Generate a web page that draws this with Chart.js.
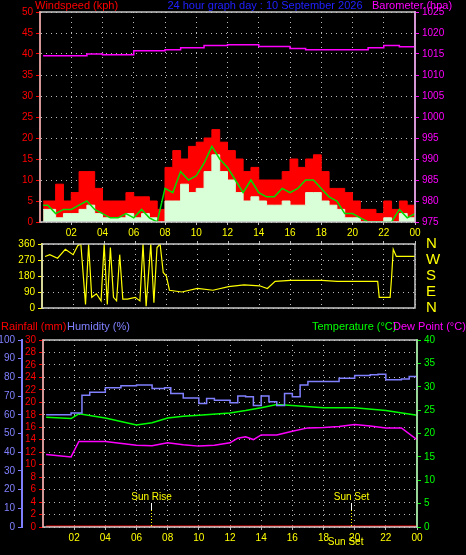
<!DOCTYPE html>
<html><head><meta charset="utf-8">
<script src="https://cdn.jsdelivr.net/npm/chart.js@4"></script>
<style>body{margin:0;background:#000;width:466px;height:555px;overflow:hidden;position:relative}canvas{position:absolute;left:0}</style>
</head><body>
<canvas id="c1" width="466" height="240" style="top:0"></canvas>
<canvas id="c2" width="466" height="90" style="top:230px"></canvas>
<canvas id="c3" width="466" height="235" style="top:320px"></canvas>
<script>
const hourLabels=["02","04","06","08","10","12","14","16","18","20","22","00"];
const windHours=[0.2,0.5,1,1.5,2,2.5,3,3.5,4,4.5,5,5.5,6,6.5,7,7.5,8,8.5,9,9.5,10,10.5,11,11.5,12,12.5,13,13.5,14,14.5,15,15.5,16,16.5,17,17.5,18,18.5,19,19.5,20,20.5,21,21.5,22,22.5,23,23.5,24];
const gust=[5,5,9,5,7,12,12,8,5,5,5,7,6,6,5,3,13,17,15,18,19,20,22,19,17,15,12,13,10,10,10,12,15,13,15,16,12,8,8,7,5,3,3,2,5,3,5,4,3];
const avgSpeed=[4,4,2,3,3,4,5,3,2,1,1,2,1,3,1,0,8,7,12,10,11,14,18,15,13,10,7,10,7,6,6,8,7,8,10,10,8,6,5,2,2,1,0,0,0,0,3,1,2];
const speed=[3,3,1,2,2,3,4,2,1,1,1,2,1,2,1,0,5,5,9,7,8,12,16,12,10,7,5,6,5,4,4,5,4,4,7,7,5,4,3,1,1,0,0,0,1,0,2,1,1];
const baroHours=[0.2,3,4,6,8,9,10.5,12,14,16,17,19,20,21,22,23,24];
const baro=[1014.6,1015,1014.8,1015.8,1016,1016.5,1017,1017.2,1016.8,1016.3,1016,1016,1016,1016.5,1017,1016.7,1017];
const dirHours=[0.2,0.5,1,1.5,2,2.3,2.5,2.8,3,3.2,3.5,3.8,4,4.2,4.4,4.6,4.8,5,5.2,5.5,6,6.3,6.5,6.7,7,7.2,7.4,7.6,7.8,8,8.2,9,10,11,12,13,14,14.5,15,16,17,18,19,21.6,21.7,22.4,22.5,22.6,22.8,24];
const windDir=[290,300,280,330,300,350,360,20,360,60,80,40,360,20,340,60,40,300,50,50,60,40,360,10,360,30,340,360,200,180,100,90,110,100,120,130,125,110,150,155,155,155,150,150,60,60,180,330,290,290];
const thHours=[0.2,1.8,2.5,3,4,5,6,7,7.8,8.2,9,10,10.5,11,12,12.5,13,13.5,14,14.5,15,15.5,16,16.5,17,18,19,20,21,21.5,22,23,23.5,24];
const humidity=[60,61,70.5,72,74.5,75.6,76,74,74.5,71.4,69,66,68.7,67.8,66.5,70,69.6,65,70,67,65,71.4,69.6,76,77.8,77.8,79.6,81,81.4,81.7,78.7,79.2,80.5,73.2];
const tempHours=[0.2,1.8,2.3,4,6,7,8,9,10,12,13,14,15,16,18,20,22,24];
const temperature=[23.5,23.2,24.2,23.3,21.8,22.3,23.3,23.7,23.9,24.4,24.9,25.5,26.2,26,25.5,25.5,24.9,23.9];
const dewHours=[0.2,1.8,2.3,4,6,7,8,9,10,11,12,12.5,13,13.5,14,15,16,17,18,19,20,21,22,23,24];
const dewPoint=[15.5,15,18.3,18.3,17.5,17.4,18,17.6,17.3,17.5,18,19,19.3,18.7,19.7,19.7,20.5,21.2,21.3,21.5,21.9,21.6,21.2,21.2,18.7];
const rainHours=[0.2,24];
const rainfall=[0,0];
const sunRise=6.95, sunSet=19.74;

const F='"Liberation Sans"';
const pts=(xs,ys)=>xs.map((x,i)=>({x,y:ys[i]}));
const frame={id:'frame',afterDatasetsDraw(ch){const a=ch.chartArea,c=ch.ctx;c.save();c.strokeStyle='#c8c8c8';c.lineWidth=1.5;c.strokeRect(a.left,a.top,a.right-a.left,a.bottom-a.top);c.restore();}};
function titles(list){return{id:'titles',afterDraw(ch){const c=ch.ctx;c.save();c.font='11px '+F;c.textBaseline='middle';list.forEach(t=>{c.fillStyle=t[3];c.textAlign=t[4]||'left';c.fillText(t[0],t[1],t[2]);});c.restore();}};}
function xAxis(pos,h,showLabels){return{type:'linear',position:pos,min:0,max:24,afterFit:s=>{s.height=h;},
 afterBuildTicks:s=>{s.ticks=[];for(let i=2;i<=24;i+=2)s.ticks.push({value:i});},
 ticks:{display:showLabels,color:'#ffff00',font:{size:10,family:F},padding:2,callback:(v)=>hourLabels[v/2-1]},
 grid:{color:'#bbb',drawTicks:true,tickLength:3,tickColor:'#bbb'},border:{dash:[1,4],display:false}};}
function yAxis(pos,w,min,max,step,color,grid,cb,fs){return{type:'linear',position:pos,min,max,afterFit:s=>{s.width=w;},
 ticks:{stepSize:step,color,font:{size:fs||10,family:F},padding:3,autoSkip:false,callback:cb},
 grid:{drawOnChartArea:grid,color:grid?'#bbb':color,tickColor:color,tickLength:4},border:{color,width:2,dash:grid?[1,4]:undefined}};}
Chart.defaults.animation=false;Chart.defaults.responsive=false;Chart.defaults.plugins.legend.display=false;Chart.defaults.plugins.tooltip.enabled=false;
Chart.defaults.elements.point.radius=0;

new Chart(document.getElementById('c1'),{type:'line',data:{datasets:[
 {data:pts(windHours,gust),stepped:true,borderColor:'#ff0000',backgroundColor:'#ff0000',fill:'origin',borderWidth:1,order:3,yAxisID:'y'},
 {data:pts(windHours,speed),stepped:true,borderColor:'#d8ffd8',backgroundColor:'#d8ffd8',fill:'origin',borderWidth:1,order:2,yAxisID:'y'},
 {data:pts(windHours,avgSpeed),borderColor:'#00dd00',borderWidth:1.5,order:1,yAxisID:'y'},
 {data:pts(baroHours,baro),stepped:true,borderColor:'#ff00ff',borderWidth:1.5,order:0,yAxisID:'y2'}]},
 options:{layout:{padding:{top:12}},scales:{x:xAxis('bottom',18,true),
  y:yAxis('left',40,0,50,5,'#ff0000',true),
  y2:yAxis('right',51,975,1025,5,'#ff00ff',false)}},
 plugins:[frame,titles([['Windspeed (kph)',35,6,'#ff0000'],['24 hour graph day : 10 September 2026',265,6,'#2020ff','center'],['Barometer (hpa)',372,6,'#ff00ff']])]});

new Chart(document.getElementById('c2'),{type:'line',data:{datasets:[
 {data:pts(dirHours,windDir),borderColor:'#ffff00',borderWidth:1.2,yAxisID:'y'},
 {data:[],yAxisID:'y2'}]},
 options:{layout:{padding:{bottom:11}},scales:{x:xAxis('top',14,false),
  y:yAxis('left',42,0,360,90,'#ffff00',true),
  y2:Object.assign(yAxis('right',51,0,360,90,'#ffff00',false,v=>({0:'N',90:'E',180:'S',270:'W',360:'N'})[v],15),{border:{display:false},grid:{display:false}})}},
 plugins:[frame]});

const sunPlugin={id:'sun',afterDatasetsDraw(ch){const c=ch.ctx,x=ch.scales.x,a=ch.chartArea;c.save();
 [[sunRise,'Sun Rise'],[sunSet,'Sun Set']].forEach(([h,t])=>{const px=Math.round(x.getPixelForValue(h))+0.5;
  c.strokeStyle='#fff';c.lineWidth=1;
  c.beginPath();c.moveTo(px,183);c.lineTo(px,190);c.stroke();
  c.strokeStyle='#ffff00';c.setLineDash([1,2]);c.beginPath();c.moveTo(px,190);c.lineTo(px,a.bottom);c.stroke();c.setLineDash([]);
  c.fillStyle='#ffff00';c.font='10px '+F;c.textAlign='center';c.textBaseline='middle';c.fillText(t,px,177);});
 c.fillStyle='#ffff00';c.font='10px '+F;c.textAlign='center';c.fillText('Sun Set',x.getPixelForValue(sunSet)-5,222);
 c.restore();}};
new Chart(document.getElementById('c3'),{type:'line',data:{datasets:[
 {data:pts(rainHours,rainfall),borderColor:'#ff0000',borderWidth:3,yAxisID:'rain'},
 {data:pts(thHours,humidity),stepped:true,borderColor:'#8080ff',borderWidth:1.5,yAxisID:'hum'},
 {data:pts(tempHours,temperature),borderColor:'#00ff00',borderWidth:1.5,yAxisID:'temp'},
 {data:pts(dewHours,dewPoint),borderColor:'#ff00ff',borderWidth:1.5,yAxisID:'temp'}]},
 options:{layout:{padding:{top:20}},scales:{x:xAxis('bottom',28,true),
  rain:yAxis('left',21,0,30,2,'#ff0000',true),
  hum:yAxis('left',22,0,100,10,'#8080ff',false),
  temp:yAxis('right',49,0,40,5,'#00ff00',false)}},
 plugins:[frame,sunPlugin,titles([['Rainfall (mm)',1,7,'#ff0000'],['Humidity (%)',67,7,'#8080ff'],['Temperature (°C)',312,7,'#00ff00'],['Dew Point (°C)',393,7,'#ff00ff']])]});
</script></body></html>
